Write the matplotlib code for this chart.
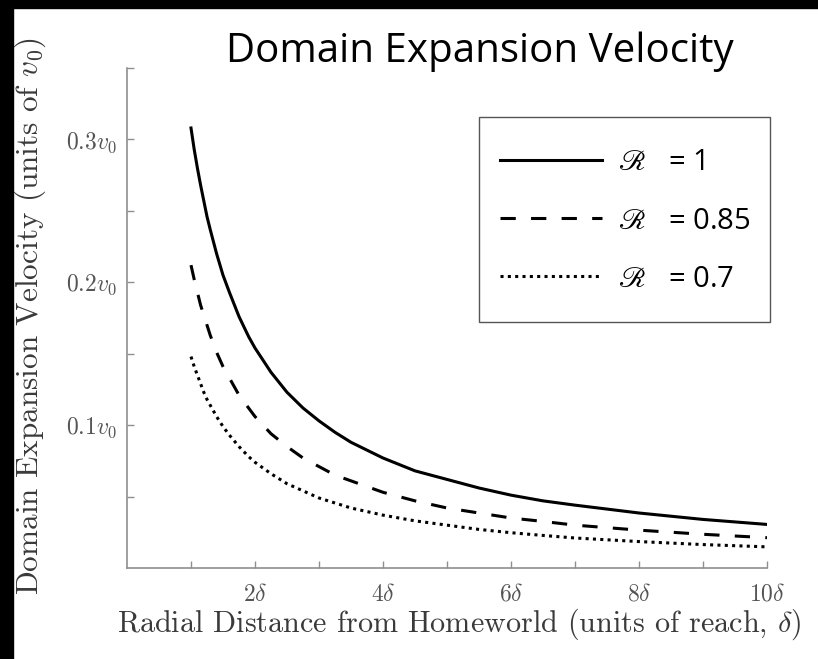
import matplotlib
matplotlib.use("Agg")
import matplotlib.pyplot as plt
from matplotlib.patches import Rectangle
from matplotlib.font_manager import FontProperties
from matplotlib.ticker import FixedLocator, FixedFormatter

plt.rcParams['mathtext.fontset'] = 'cm'

# values
distance = [1.0, 1.05, 1.1, 1.15, 1.2, 1.25, 1.3, 1.4, 1.5, 1.6, 1.75, 1.9,
            2.0, 2.25, 2.5, 2.75, 3.0, 3.25, 3.5, 4.0, 4.5, 5.0, 5.5, 6.0,
            6.5, 7.0, 8.0, 9.0, 10.0]
vel_r100 = [0.308, 0.293, 0.280, 0.268, 0.257, 0.246, 0.237, 0.220, 0.205,
            0.193, 0.176, 0.162, 0.154, 0.137, 0.123, 0.112, 0.103, 0.095,
            0.088, 0.077, 0.068, 0.062, 0.056, 0.051, 0.047, 0.044, 0.0385,
            0.034, 0.0305]
vel_r085 = [0.212, 0.202, 0.193, 0.184, 0.177, 0.170, 0.163, 0.151, 0.141,
            0.133, 0.121, 0.112, 0.106, 0.094, 0.085, 0.077, 0.071, 0.065,
            0.061, 0.053, 0.047, 0.042, 0.0385, 0.035, 0.0326, 0.030, 0.0265,
            0.0236, 0.0212]
vel_r070 = [0.148, 0.141, 0.135, 0.129, 0.123, 0.118, 0.114, 0.106, 0.099,
            0.093, 0.085, 0.078, 0.074, 0.066, 0.059, 0.054, 0.049, 0.0455,
            0.042, 0.037, 0.033, 0.030, 0.027, 0.0247, 0.0228, 0.021, 0.0185,
            0.0164, 0.0148]
series_labels = [r"$\mathscr{R}$   = 1", r"$\mathscr{R}$   = 0.85", r"$\mathscr{R}$   = 0.7"]

x_major = [2, 4, 6, 8, 10]
x_major_labels = [r"$2\delta$", r"$4\delta$", r"$6\delta$", r"$8\delta$", r"$10\delta$"]
x_minor = [1, 3, 5, 7, 9]
y_major = [0.1, 0.2, 0.3]
y_major_labels = [r"$0.1v_0$", r"$0.2v_0$", r"$0.3v_0$"]
y_minor = [0.05, 0.15, 0.25, 0.35]

W, H = 818, 659
fig = plt.figure(figsize=(W / 100, H / 100), dpi=100)
ax = fig.add_axes([127 / W, 1 - 568 / H, 640 / W, 500 / H])

lw = 2.2
ax.plot(distance, vel_r100, color='black', lw=lw, label=series_labels[0])
ax.plot(distance, vel_r085, color='black', lw=lw, dashes=(5, 5), label=series_labels[1])
ax.plot(distance, vel_r070, color='black', lw=lw, dashes=(1, 1.4),
        dash_capstyle='butt', label=series_labels[2])

ax.set_xlim(0, 10)
ax.set_ylim(0, 0.35)

ax.xaxis.set_major_locator(FixedLocator(x_major))
ax.xaxis.set_major_formatter(FixedFormatter(x_major_labels))
ax.xaxis.set_minor_locator(FixedLocator(x_minor))
ax.yaxis.set_major_locator(FixedLocator(y_major))
ax.yaxis.set_major_formatter(FixedFormatter(y_major_labels))
ax.yaxis.set_minor_locator(FixedLocator(y_minor))

spine_col = '#8f8f8f'
for s in ['top', 'right']:
    ax.spines[s].set_visible(False)
for s in ['left', 'bottom']:
    ax.spines[s].set_color(spine_col)
    ax.spines[s].set_linewidth(1.2)
ax.tick_params(which='both', direction='in', length=5, width=1.0, color=spine_col)
ax.tick_params(axis='y', which='major', pad=7, labelsize=17, labelcolor='#555555')
ax.tick_params(axis='x', which='major', pad=10, labelsize=17, labelcolor='#555555')

fig.text(459 / W, 1 - 624 / H, r"Radial Distance from Homeworld (units of reach, $\delta$)",
         family='cmr10', fontsize=21.7, color='#3a3a3a', ha='center', va='center')
fig.text(30 / W, 1 - 316 / H, r"Domain Expansion Velocity (units of $v_0$)",
         family='cmr10', fontsize=22.5, color='#3a3a3a', rotation=90,
         ha='center', va='center')

fig.text(480 / W, 1 - 52 / H, "Domain Expansion Velocity", family='Open Sans',
         fontsize=29, color='black', ha='center', va='center')

# legend frame drawn by hand (taller padding than the legend's own)
fig.patches.append(Rectangle((479 / W, 1 - 322 / H), 291 / W, 205 / H,
                             transform=fig.transFigure, fill=False,
                             edgecolor='#555555', lw=1.0))
leg_font = FontProperties(family='Open Sans', size=21, math_fontfamily='stix')
ax.legend(loc='center', bbox_to_anchor=(625 / W, 1 - 221 / H),
          bbox_transform=fig.transFigure, frameon=False, prop=leg_font,
          handlelength=3.5, handletextpad=0.55, labelspacing=1.0,
          borderpad=0.4)

# black strips along top and left edge of the source image
fig.patches.append(Rectangle((0, 0), 13 / W, 1, transform=fig.transFigure,
                             color='black', zorder=10))
fig.patches.append(Rectangle((0, 1 - 8 / H), 1, 8 / H, transform=fig.transFigure,
                             color='black', zorder=10))

fig.savefig("out.png", dpi=100)
